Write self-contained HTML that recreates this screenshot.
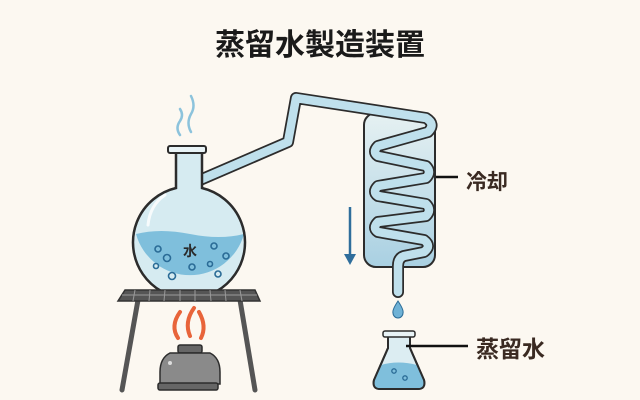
<!DOCTYPE html>
<html><head><meta charset="utf-8"><style>
html,body{margin:0;padding:0;background:#fcf8f1;}
svg{display:block}
text{font-family:"Liberation Sans","Noto Sans CJK JP",sans-serif;}
</style></head><body>
<svg width="640" height="400" viewBox="0 0 640 400" xmlns="http://www.w3.org/2000/svg">
<defs>
<linearGradient id="cond" x1="0" y1="0" x2="0" y2="1">
<stop offset="0" stop-color="#e6f1f2"/><stop offset="1" stop-color="#a9d0e2"/>
</linearGradient>
</defs>
<rect width="640" height="400" fill="#fcf8f1"/>
<text x="320" y="55" font-size="30" font-weight="bold" text-anchor="middle" fill="#1a1a1a">蒸留水製造装置</text>

<g fill="none" stroke="#8cc3dc" stroke-width="2.5" stroke-linecap="round">
<path d="M180 135 q-5 -7 0 -14 q4 -6 0 -12"/>
<path d="M191 132 q-5 -9 0 -18 q5 -8 0 -18"/>
</g>

<rect x="364" y="113" width="71" height="154" rx="12" fill="url(#cond)" stroke="#2c2c2c" stroke-width="2"/>

<g fill="none" stroke-linecap="round" stroke-linejoin="round">
<path d="M200 180 L288 142 L296 98 L426 118 Q436 124 428 132 L378 146 Q372 152 378 156 L426 166 Q432 172 426 178 L378 186 Q372 192 378 196 L426 204 Q432 210 426 216 L378 222 Q372 228 378 232 L424 240 Q432 246 424 252 L404 256 Q398 258 398 266 L398 292" stroke="#2c2c2c" stroke-width="12"/>
<path d="M200 180 L288 142 L296 98 L426 118 Q436 124 428 132 L378 146 Q372 152 378 156 L426 166 Q432 172 426 178 L378 186 Q372 192 378 196 L426 204 Q432 210 426 216 L378 222 Q372 228 378 232 L424 240 Q432 246 424 252 L404 256 Q398 258 398 266 L398 292" stroke="#bfe0ec" stroke-width="8.5"/>
</g>

<path d="M176 152 L176 188 A56 56 0 1 0 202 188 L202 152 Z" fill="#d6ebf1" stroke="#2c2c2c" stroke-width="2"/>
<path d="M136 234 Q160 228 190 234 Q220 240 244 234 A56 56 0 0 1 136 234 Z" fill="#7fbfdc"/>
<path d="M176 152 L176 188 A56 56 0 1 0 202 188 L202 152 Z" fill="none" stroke="#2c2c2c" stroke-width="2.5"/>
<rect x="168" y="146" width="38" height="7" rx="2" fill="#e8f3f6" stroke="#2c2c2c" stroke-width="2"/>
<path d="M148 225 Q150 205 165 195" fill="none" stroke="#fff" stroke-width="3" stroke-linecap="round" opacity="0.8"/>
<text x="190" y="256" font-size="14" font-weight="bold" text-anchor="middle" fill="#2a2a2a">水</text>
<g fill="none" stroke="#2a6b96" stroke-width="1.6">
<circle cx="158" cy="249" r="3"/><circle cx="167" cy="258" r="3.5"/><circle cx="156" cy="266" r="2.5"/>
<circle cx="172" cy="276" r="3.5"/><circle cx="192" cy="267" r="3"/><circle cx="214" cy="246" r="3"/>
<circle cx="226" cy="256" r="3"/><circle cx="210" cy="264" r="2.5"/><circle cx="218" cy="274" r="3"/>
</g>

<g stroke="#555" stroke-width="5" stroke-linecap="round">
<line x1="138" y1="300" x2="122" y2="390"/>
<line x1="240" y1="300" x2="255" y2="390"/>
</g>
<polygon points="125,290 255,290 260,301 118,301" fill="#555" stroke="#333" stroke-width="1.5"/>
<g stroke="#9a9a9a" stroke-width="1">
<line x1="122" y1="295" x2="257" y2="295"/>
<line x1="135" y1="290" x2="133" y2="301"/><line x1="150" y1="290" x2="149" y2="301"/>
<line x1="165" y1="290" x2="164" y2="301"/><line x1="180" y1="290" x2="180" y2="301"/>
<line x1="195" y1="290" x2="195" y2="301"/><line x1="210" y1="290" x2="211" y2="301"/>
<line x1="225" y1="290" x2="226" y2="301"/><line x1="240" y1="290" x2="242" y2="301"/>
</g>

<g fill="none" stroke="#e8643a" stroke-width="4" stroke-linecap="round">
<path d="M178 338 q-8 -12 2 -26"/>
<path d="M190 336 q-6 -14 4 -28"/>
<path d="M201 338 q6 -12 -2 -26"/>
</g>
<rect x="178" y="345" width="24" height="8" rx="2" fill="#666" stroke="#2c2c2c" stroke-width="1.5"/>
<path d="M170 353 Q160 358 160 372 L160 384 L220 384 L220 372 Q220 358 210 353 Z" fill="#8a8a8a" stroke="#2c2c2c" stroke-width="1.5"/>
<rect x="158" y="383" width="60" height="7" rx="2" fill="#666" stroke="#2c2c2c" stroke-width="1.5"/>
<circle cx="170" cy="363" r="2" fill="#ddd"/>

<line x1="350" y1="207" x2="350" y2="258" stroke="#2f6e9c" stroke-width="2.5"/>
<polygon points="344,254 356,254 350,265" fill="#2f6e9c"/>

<path d="M398 301 Q392 310 393 313 A5 5 0 0 0 403 313 Q404 310 398 301 Z" fill="#6fb2d6" stroke="#2a6b96" stroke-width="1"/>

<path d="M388 335 L388 348 L374 380 Q372 389 380 389 L418 389 Q426 389 424 380 L410 348 L410 335 Z" fill="#dcedf2" stroke="#2c2c2c" stroke-width="2"/>
<path d="M381 365 Q398 360 417 365 L424 380 Q426 389 418 389 L380 389 Q372 389 374 380 Z" fill="#7fbfdc"/>
<path d="M388 335 L388 348 L374 380 Q372 389 380 389 L418 389 Q426 389 424 380 L410 348 L410 335 Z" fill="none" stroke="#2c2c2c" stroke-width="2"/>
<rect x="383" y="331" width="32" height="6" rx="2" fill="#e8f3f6" stroke="#2c2c2c" stroke-width="1.5"/>
<circle cx="394" cy="371" r="2.2" fill="none" stroke="#2a6b96" stroke-width="1.3"/>
<circle cx="405" cy="378" r="2.2" fill="none" stroke="#2a6b96" stroke-width="1.3"/>

<line x1="436" y1="177" x2="458" y2="177" stroke="#111" stroke-width="2.5"/>
<text x="466" y="189" font-size="21" font-weight="bold" fill="#3a2a22">冷却</text>
<line x1="406" y1="346" x2="468" y2="346" stroke="#111" stroke-width="2.5"/>
<text x="476" y="357" font-size="23" font-weight="bold" fill="#3a2a22">蒸留水</text>
</svg>
</body></html>
